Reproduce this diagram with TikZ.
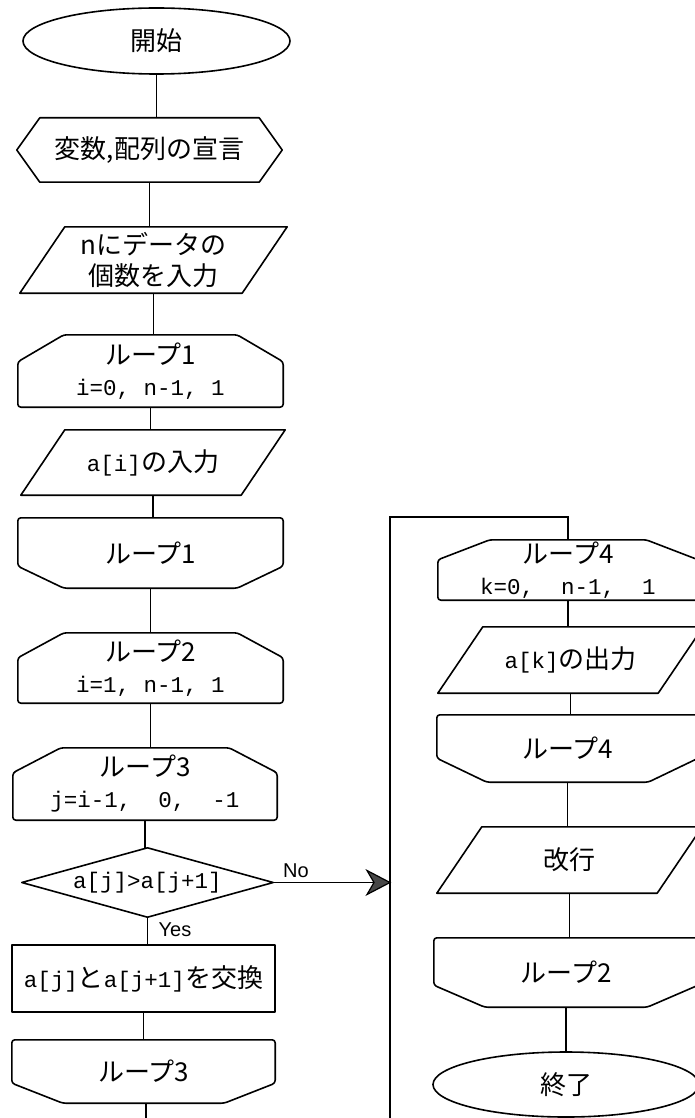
\documentclass[tikz,border=0pt]{standalone}
\usepackage{fontspec}
\setmainfont{Noto Sans CJK JP}
\newfontfamily\monofnt{Liberation Mono}
\newfontfamily\lsans{Liberation Sans}
\usetikzlibrary{shapes.geometric,arrows.meta,calc}
\tikzset{
  base/.style={inner sep=0pt, font=\fontsize{26}{31}\selectfont, align=center},
  outline/.style={draw=black, line width=1.6pt, line join=round},
  flow/.style={draw=black, line width=1.5pt},
  lbl/.style={font=\lsans\fontsize{20}{24}\selectfont, inner sep=0pt},
  headfill/.style={draw=black, fill=black!72, line width=1.2pt, line join=miter},
}
\newcommand\mt[1]{{\monofnt\fontsize{22.5}{31}\selectfont #1}}
% loop start: chamfered top, rounded bottom
\newcommand\LoopStart[3]{\draw[outline, rounded corners=3pt]
  ([xshift=#2]#1.north west) -- ([xshift=-#2]#1.north east) -- ([yshift=-#3]#1.north east)
  -- (#1.south east) -- (#1.south west) -- ([yshift=-#3]#1.north west) -- cycle;}
% loop end: rounded top, chamfered bottom
\newcommand\LoopEnd[3]{\draw[outline, rounded corners=3pt]
  (#1.north west) -- (#1.north east) -- ([yshift=#3]#1.south east)
  -- ([xshift=-#2]#1.south east) -- ([xshift=#2]#1.south west) -- ([yshift=#3]#1.south west) -- cycle;}
\newcommand\Hexa[2]{\draw[outline]
  (#1.west) -- ([xshift=#2]#1.north west) -- ([xshift=-#2]#1.north east) -- (#1.east)
  -- ([xshift=-#2]#1.south east) -- ([xshift=#2]#1.south west) -- cycle;}
\newcommand\Para[2]{\draw[outline]
  ([xshift=#2]#1.north west) -- (#1.north east) -- ([xshift=-#2]#1.south east) -- (#1.south west) -- cycle;}
\newcommand\Diam[1]{\draw[outline] (#1.west) -- (#1.north) -- (#1.east) -- (#1.south) -- cycle;}
\newcommand\ProcBox[1]{\draw[outline] (#1.north west) rectangle (#1.south east);}
\begin{document}
\begin{tikzpicture}[x=1pt,y=-1pt]
\useasboundingbox (0,0) rectangle (694,1118);
\fill[white] (0,0) rectangle (694,1118);

% left column
\node[base, ellipse, outline, minimum width=267pt, minimum height=66pt] (start) at (156.5,41) {開始};
\node[base, minimum width=265pt, minimum height=64pt] (decl) at (149.5,150) {変数,配列の宣言};
\Hexa{decl}{23pt}
\node[base, minimum width=267pt, minimum height=66pt] (in1) at (153.5,260) {nにデータの\\個数を入力};
\Para{in1}{45pt}
\node[base, minimum width=265pt, minimum height=72pt] (l1s) at (150.5,371) {ループ1\\\mt{i=0, n-1, 1}};
\LoopStart{l1s}{46pt}{27pt}
\node[base, minimum width=264pt, minimum height=65pt] (in2) at (153,462.5) {\mt{a[i]}の入力};
\Para{in2}{44pt}
\node[base, minimum width=265pt, minimum height=70pt] (l1e) at (150.5,553) {ループ1};
\LoopEnd{l1e}{46pt}{22pt}
\node[base, minimum width=265pt, minimum height=70pt] (l2s) at (150.5,668) {ループ2\\\mt{i=1, n-1, 1}};
\LoopStart{l2s}{46pt}{25pt}
\node[base, minimum width=264pt, minimum height=72pt] (l3s) at (145,784) {ループ3\\\mt{j=i-1,\ \ 0,\ \ -1}};
\LoopStart{l3s}{48pt}{25pt}
\node[base, minimum width=251pt, minimum height=69pt] (dec) at (147.5,882.5) {\mt{a[j]>a[j+1]}};
\Diam{dec}
\node[base, minimum width=263pt, minimum height=67pt] (swap) at (143.5,978.5) {\mt{a[j]}と\mt{a[j+1]}を交換};
\ProcBox{swap}
\node[base, minimum width=263pt, minimum height=63pt] (l3e) at (143.5,1071.5) {ループ3};
\LoopEnd{l3e}{51pt}{20pt}

% right column
\node[base, minimum width=260pt, minimum height=60pt] (l4s) at (568,570) {ループ4\\\mt{k=0,\ \ n-1,\ \ 1}};
\LoopStart{l4s}{52pt}{20pt}
\node[base, minimum width=265pt, minimum height=66pt] (out1) at (570.5,660) {\mt{a[k]}の出力};
\Para{out1}{45pt}
\node[base, minimum width=261pt, minimum height=67pt] (l4e) at (567.5,748.5) {ループ4};
\LoopEnd{l4e}{50pt}{24pt}
\node[base, minimum width=265pt, minimum height=66pt] (kai) at (569.5,860) {改行};
\Para{kai}{45pt}
\node[base, minimum width=264pt, minimum height=69pt] (l2e) at (566,972.5) {ループ2};
\LoopEnd{l2e}{51pt}{22pt}
\node[base, ellipse, outline, minimum width=266pt, minimum height=65pt] (end) at (566,1084.5) {終了};

% connectors left
\draw[flow] (start.south) -- (start.south |- decl.north);
\draw[flow] (decl.south) -- (decl.south |- in1.north);
\draw[flow] (in1.south) -- (in1.south |- l1s.north);
\draw[flow] (l1s.south) -- (l1s.south |- in2.north);
\draw[flow] (in2.south) -- (in2.south |- l1e.north);
\draw[flow] (l1e.south) -- (l1e.south |- l2s.north);
\draw[flow] (l2s.south) -- (l2s.south |- l3s.north);
\draw[flow] (l3s.south) -- (l3s.south |- dec.north);
\draw[flow] (dec.south) -- (dec.south |- swap.north);
\draw[flow] (swap.south) -- (swap.south |- l3e.north);
\coordinate (bl) at (146,1118);
\draw[flow] ([xshift=2.5pt]l3e.south) -- ([xshift=2.5pt]l3e.south |- bl);

% loop-back line
\coordinate (rb) at (390,1118);
\coordinate (rt) at (390,517);
\draw[flow] (rb) -- (rt) -| (l4s.north);
\coordinate (tip) at (dec.east -| rt);
\draw[flow] (dec.east) -- ([xshift=-14pt]tip);
\filldraw[headfill] (tip) -- ++(-23,-12) -- ++(7,12) -- ++(-7,12) -- cycle;
\node[lbl] (no) at (296,871) {No};
\node[lbl] (yes) at (175,930) {Yes};

% connectors right
\draw[flow] (l4s.south) -- (l4s.south |- out1.north);
\draw[flow] (out1.south) -- (out1.south |- l4e.north);
\draw[flow] (l4e.south) -- (l4e.south |- kai.north);
\draw[flow] (kai.south) -- (kai.south |- l2e.north);
\draw[flow] (l2e.south) -- (l2e.south |- end.north);
\end{tikzpicture}
\end{document}
